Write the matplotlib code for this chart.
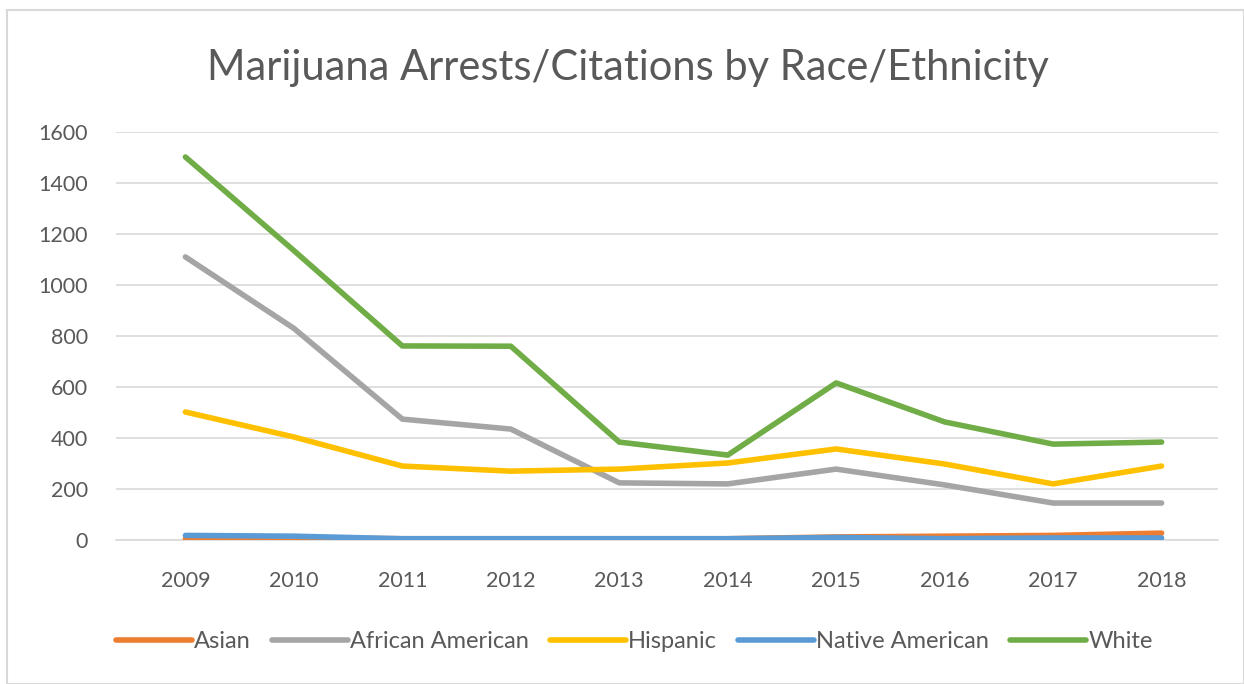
import matplotlib
matplotlib.use("Agg")
import matplotlib.pyplot as plt
from matplotlib.patches import Rectangle

years = [2009, 2010, 2011, 2012, 2013, 2014, 2015, 2016, 2017, 2018]
asian = [5, 8, 5, 5, 5, 5, 12, 15, 18, 27]
african_american = [1110, 830, 474, 435, 224, 220, 278, 216, 145, 145]
hispanic = [502, 404, 290, 270, 278, 302, 357, 298, 220, 290]
native_american = [18, 15, 5, 5, 5, 5, 10, 5, 8, 8]
white = [1502, 1135, 761, 760, 384, 333, 616, 463, 376, 384]

series = [
    ("Asian", asian, "#ED7D31"),
    ("African American", african_american, "#A5A5A5"),
    ("Hispanic", hispanic, "#FFC000"),
    ("Native American", native_american, "#5B9BD5"),
    ("White", white, "#70AD47"),
]
draw_order = ["African American", "Hispanic", "White", "Asian", "Native American"]

plt.rcParams['font.family'] = ['Lato', 'DejaVu Sans']
fig = plt.figure(figsize=(12.44, 6.84), dpi=100)
fig.patches.append(Rectangle((7/1244, 0), 1 - 7/1244, 1 - 10/684, transform=fig.transFigure,
                             fill=False, edgecolor="#D9D9D9", linewidth=1.5))
ax = fig.add_axes([116/1244, (684-540)/684, (1218-116)/1244, 408/684])

lookup = {name: (vals, col) for name, vals, col in series}
for z, name in enumerate(draw_order):
    vals, col = lookup[name]
    ax.plot(years, vals, color=col, lw=4.0, solid_capstyle="round", zorder=3 + z)

ax.set_xlim(2008.36, 2018.52)
ax.set_ylim(0, 1600)
ax.set_yticks(range(0, 1601, 200))
ax.set_xticks(years)
ax.grid(axis="y", color="#D9D9D9", lw=1.2)
for s in ax.spines.values():
    s.set_visible(False)
ax.spines["bottom"].set_visible(True)
ax.spines["bottom"].set_color("#D9D9D9")
ax.spines["bottom"].set_linewidth(1.2)
ax.tick_params(length=0, labelsize=15.5, colors="#595959")
ax.tick_params(axis="x", pad=22)
ax.tick_params(axis="y", pad=20)

fig.text(0.505, (684-68)/684, "Marijuana Arrests/Citations by Race/Ethnicity", ha="center", va="center",
         fontsize=30, color="#595959")

legend_handles = [plt.Line2D([], [], color=c, lw=4.0, solid_capstyle="round") for _, _, c in series]
fig.legend(legend_handles, [n for n, _, _ in series], loc="center", bbox_to_anchor=(0.51, (684-642)/684),
           ncol=5, frameon=False, fontsize=17, labelcolor="#595959", handlelength=3.2,
           handletextpad=0.1, columnspacing=0.9)

fig.savefig("out.png", dpi=100)
